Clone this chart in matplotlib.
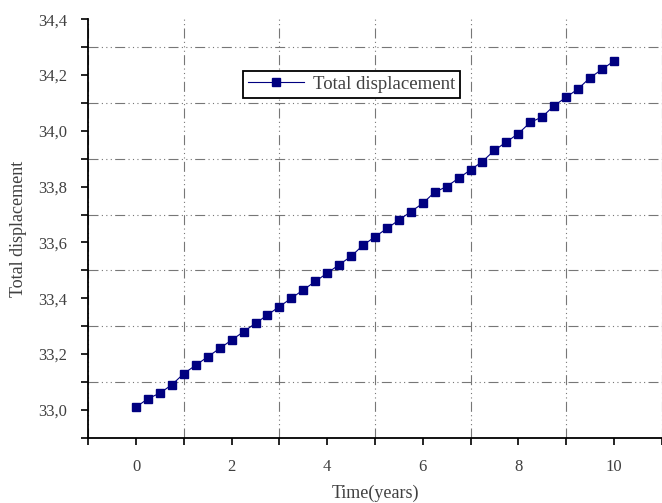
import matplotlib.pyplot as plt
from matplotlib.ticker import MultipleLocator, FuncFormatter

# displacement sampled every quarter year
years = [0, 0.25, 0.5, 0.75, 1, 1.25, 1.5, 1.75, 2, 2.25, 2.5, 2.75, 3, 3.25,
         3.5, 3.75, 4, 4.25, 4.5, 4.75, 5, 5.25, 5.5, 5.75, 6, 6.25, 6.5, 6.75,
         7, 7.25, 7.5, 7.75, 8, 8.25, 8.5, 8.75, 9, 9.25, 9.5, 9.75, 10]
displacement = [33.01, 33.04, 33.06, 33.09, 33.13, 33.16, 33.19, 33.22, 33.25,
                33.28, 33.31, 33.34, 33.37, 33.40, 33.43, 33.46, 33.49, 33.52,
                33.55, 33.59, 33.62, 33.65, 33.68, 33.71, 33.74, 33.78, 33.80,
                33.83, 33.86, 33.89, 33.93, 33.96, 33.99, 34.03, 34.05, 34.09,
                34.12, 34.15, 34.19, 34.22, 34.25]

plt.rcParams['font.family'] = ['Liberation Serif', 'DejaVu Serif']

fig = plt.figure(figsize=(6.62, 5.03), dpi=100)
ax = fig.add_axes([0.1334, 0.1298, 0.866, 0.832])

ax.plot(years, displacement, color='#000080', lw=0.8, marker='s', ms=5.8,
        mec='#000080', mfc='#000080', label='Total displacement')

ax.set_xlim(-1, 11)
ax.set_ylim(32.9, 34.4)
ax.xaxis.set_major_locator(MultipleLocator(2))
ax.xaxis.set_minor_locator(MultipleLocator(1))
ax.yaxis.set_major_locator(MultipleLocator(0.2))
ax.yaxis.set_minor_locator(MultipleLocator(0.1))
ax.yaxis.set_major_formatter(FuncFormatter(lambda v, p: f'{v:.1f}'.replace('.', ',')))

# dash-dot-dot grid on the odd (minor) ticks
gstyle = (0, (9, 3, 1, 3, 1, 3, 1, 3))
ax.grid(False, which='major')
ax.grid(True, which='minor', color='#777777', lw=0.8, linestyle=gstyle)

for s in ['top', 'right']:
    ax.spines[s].set_visible(False)
for s in ['left', 'bottom']:
    ax.spines[s].set_linewidth(1.3)

ax.tick_params(which='both', direction='out', width=1.2, color='black')
ax.tick_params(which='major', length=5, labelsize=12, labelcolor='#404040', pad=10)
ax.tick_params(which='minor', length=5)

ax.set_xlabel('Time(years)', fontsize=13, color='#404040', labelpad=7)
ax.set_ylabel('Total displacement', fontsize=13, color='#404040', labelpad=8)

leg = ax.legend(loc='upper left', bbox_to_anchor=(0.27, 0.876), borderaxespad=0,
                fancybox=False, framealpha=1, edgecolor='black', fontsize=13.5,
                handlelength=3.0, handletextpad=0.5, borderpad=0.25)
leg.get_frame().set_linewidth(1.3)
for t in leg.get_texts():
    t.set_color('#404040')

fig.savefig('out.png', dpi=100)
